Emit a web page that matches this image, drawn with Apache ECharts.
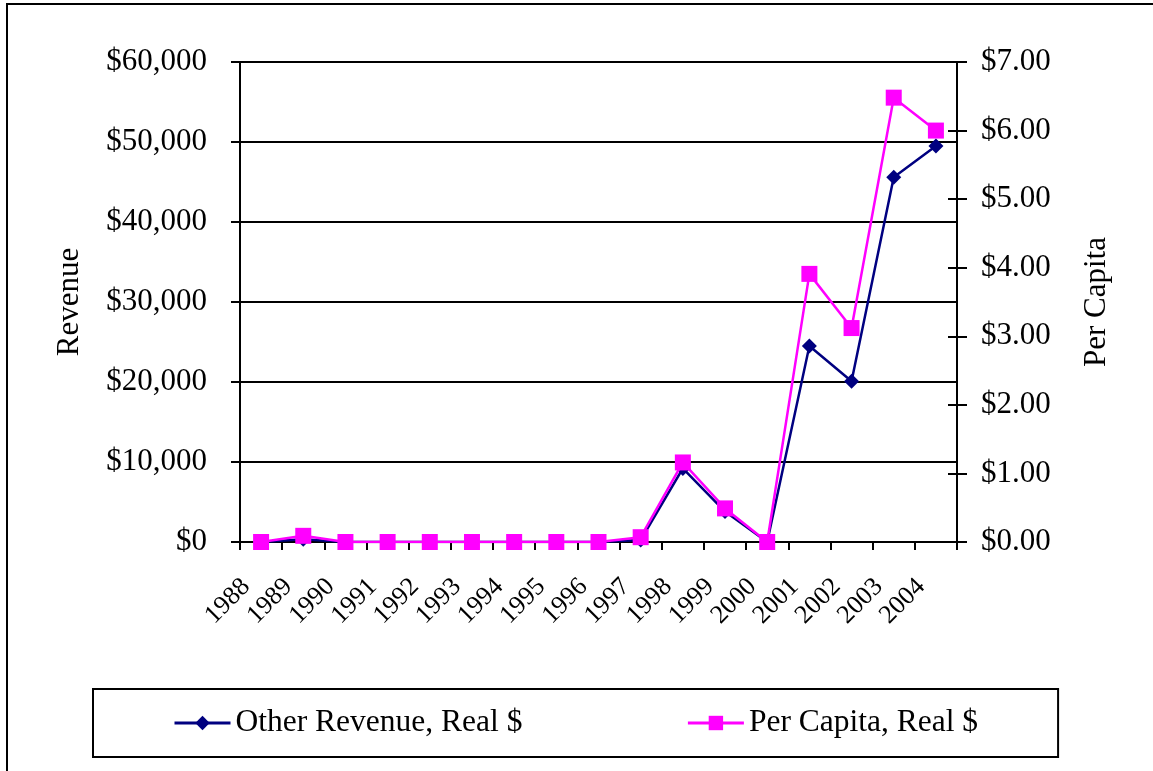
<!DOCTYPE html>
<html>
<head>
<meta charset="utf-8">
<script src="https://cdn.jsdelivr.net/npm/echarts@6/dist/echarts.min.js"></script>
<style>
html,body{margin:0;padding:0;background:#fff;}
#chart{width:1153px;height:771px;}
</style>
</head>
<body>
<div id="chart"></div>
<script>
const years = ['1988','1989','1990','1991','1992','1993','1994','1995','1996','1997','1998','1999','2000','2001','2002','2003','2004'];
const otherRevenue = [0, 350, 0, 0, 0, 0, 0, 0, 0, 250, 9200, 3800, 0, 24500, 20100, 45600, 49500];
const perCapita = [0, 0.09, 0, 0, 0, 0, 0, 0, 0, 0.07, 1.16, 0.49, 0, 3.91, 3.12, 6.48, 6.00];
const revenueTicks = {min: 0, max: 60000, interval: 10000};
const perCapitaTicks = {min: 0, max: 7, interval: 1};

const FONT = '"Liberation Serif", "Times New Roman", serif';
const chart = echarts.init(document.getElementById('chart'));

const hiddenAxisBase = {
  axisLine: {show: false},
  axisLabel: {show: false},
  splitLine: {show: false},
  axisTick: {show: true, inside: true, length: 9, lineStyle: {color: '#000', width: 2}}
};

chart.setOption({
  animation: false,
  backgroundColor: '#fff',
  graphic: [{
    type: 'rect',
    shape: {x: 7, y: 4, width: 1170, height: 820},
    style: {fill: 'none', stroke: '#000', lineWidth: 2},
    silent: true
  }],
  grid: {left: 240, right: 196, top: 62, bottom: 229, containLabel: false},
  legend: {
    left: 93, top: 689,
    padding: [16, 80, 16, 80],
    itemGap: 164,
    itemWidth: 56, itemHeight: 18,
    lineStyle: {width: 3},
    borderColor: '#000', borderWidth: 2,
    textStyle: {fontFamily: FONT, fontSize: 31.5, color: '#000', lineHeight: 36},
    data: ['Other Revenue, Real $', 'Per Capita, Real $']
  },
  xAxis: {
    type: 'category',
    data: years,
    boundaryGap: true,
    axisLine: {lineStyle: {color: '#000', width: 2}},
    axisTick: {show: true, length: 8, alignWithLabel: false, lineStyle: {color: '#000', width: 2}},
    axisLabel: {
      rotate: 45, interval: 0, margin: 26, padding: [0, 21, 0, 0],
      fontFamily: FONT, fontSize: 26, color: '#000'
    },
    splitLine: {show: false}
  },
  yAxis: [
    Object.assign({
      type: 'value', position: 'left',
      name: 'Revenue', nameLocation: 'middle', nameGap: 155, nameRotate: 90,
      nameTextStyle: {fontFamily: FONT, fontSize: 31, color: '#000'},
      axisLine: {show: true, lineStyle: {color: '#000', width: 2}},
      axisTick: {show: true, length: 9, lineStyle: {color: '#000', width: 2}},
      axisLabel: {
        margin: 33, fontFamily: FONT, fontSize: 31, color: '#000',
        formatter: v => '$' + v.toLocaleString('en-US')
      },
      splitLine: {show: true, lineStyle: {color: '#000', width: 2}}
    }, revenueTicks),
    Object.assign({
      type: 'value', position: 'right',
      name: 'Per Capita', nameLocation: 'middle', nameGap: 124, nameRotate: 90,
      nameTextStyle: {fontFamily: FONT, fontSize: 31, color: '#000'},
      axisLine: {show: true, lineStyle: {color: '#000', width: 2}},
      axisTick: {show: true, length: 10, lineStyle: {color: '#000', width: 2}},
      axisLabel: {
        margin: 24, fontFamily: FONT, fontSize: 31, color: '#000',
        formatter: v => '$' + v.toFixed(2)
      },
      splitLine: {show: false}
    }, perCapitaTicks),
    Object.assign({type: 'value', position: 'left', offset: 0}, hiddenAxisBase, revenueTicks),
    Object.assign({type: 'value', position: 'right', offset: 0}, hiddenAxisBase, perCapitaTicks)
  ],
  series: [
    {
      name: 'Other Revenue, Real $',
      type: 'line',
      yAxisIndex: 0,
      data: otherRevenue,
      symbol: 'diamond', symbolSize: 15,
      lineStyle: {color: '#000080', width: 2.5},
      itemStyle: {color: '#000080'},
      z: 2
    },
    {
      name: 'Per Capita, Real $',
      type: 'line',
      yAxisIndex: 1,
      data: perCapita,
      symbol: 'rect', symbolSize: 16,
      lineStyle: {color: '#FF00FF', width: 2.5},
      itemStyle: {color: '#FF00FF'},
      z: 3
    }
  ]
});
</script>
</body>
</html>
